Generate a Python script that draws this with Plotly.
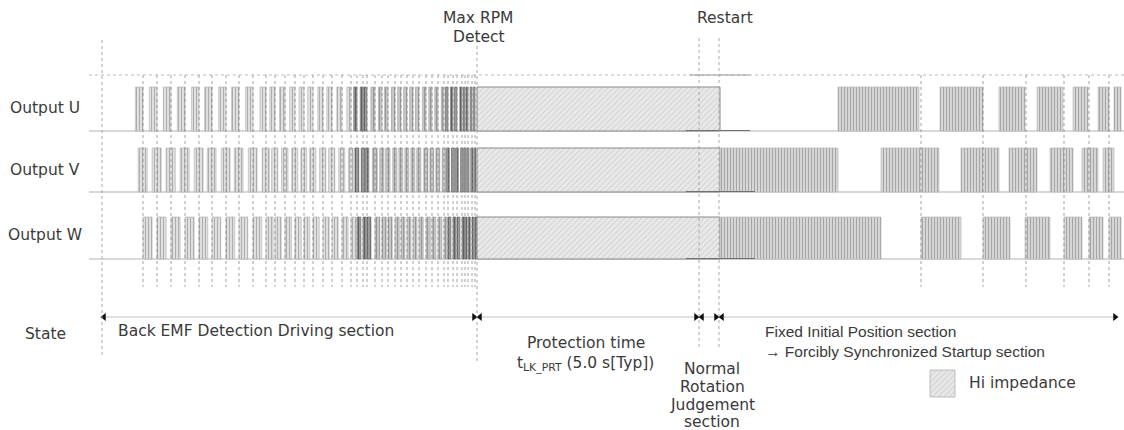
import plotly.graph_objects as go

# ---------------- data (time axis in drawing units) ----------------
rows = ["Output U", "Output V", "Output W"]
row_top = [87, 148, 217]
row_base = [131, 192, 259]
row_label_y = [108, 170, 235]

# commutation instants during Back EMF detection driving (dashed lines)
commutation_bemf = [143, 157, 171, 185, 199, 212, 226, 239, 253, 266, 275, 285,
                    295, 304, 313, 323, 332, 342, 351, 357, 363, 367, 375, 382,
                    388, 395, 401, 407, 413, 419, 426, 432, 438, 444, 448, 453,
                    457, 462, 465, 468, 472, 475]
# drive window of each phase relative to a commutation (fraction of local period)
pulse_phase = {"Output U": (-0.55, 0.0), "Output V": (-0.35, 0.3), "Output W": (0.0, 0.65)}
shade_zones = [(100, 352, "light"), (352, 369, "dark"), (369, 445, "mid"), (445, 478, "dark")]

left_t = 102
max_rpm_t = 477
judge_t = 699
restart_t = 719
hiz_window = (477, 720)

# forcibly synchronized startup bursts (start, end)
bursts = {
    "Output U": [(838, 919), (940, 983), (999, 1025), (1037, 1063), (1073, 1088), (1098, 1109), (1114, 1121)],
    "Output V": [(720, 838), (881, 939), (961, 999), (1009, 1037), (1050, 1073), (1082, 1098), (1103, 1114)],
    "Output W": [(720, 881), (921, 961), (983, 1010), (1025, 1050), (1064, 1082), (1089, 1103), (1109, 1121)],
}
commutation_sync = [921, 983, 1026, 1064, 1089, 1109]

# emphasised level segments around restart (row index, start, end)
restart_marks = [(0, 686, 750), (1, 686, 755), (2, 686, 755)]

# ---------------- styles ----------------
zone_style = {
    "light": dict(bg="#dfdfdf", fg="#a8a8a8", line="#b0b0b0"),
    "mid": dict(bg="#c6c6c6", fg="#939393", line="#a4a4a4"),
    "dark": dict(bg="#9a9a9a", fg="#5a5a5a", line="#6a6a6a"),
}
FONT = "DejaVu Sans"
TXT = "#3a3a3a"
FS = 15.5
X_MAX, Y_MAX = 1124, 430

fig = go.Figure()


def add_bars(starts, ends, ri, bg, fg, line, shape="|", size=3, solidity=0.3, lw=0.6):
    if not starts:
        return
    fig.add_trace(go.Bar(
        x=[(a + b) / 2 for a, b in zip(starts, ends)],
        width=[b - a for a, b in zip(starts, ends)],
        base=[row_base[ri]] * len(starts),
        y=[row_top[ri] - row_base[ri]] * len(starts),
        marker=dict(color=bg, line=dict(color=line, width=lw),
                    pattern=dict(shape=shape, fgcolor=fg, bgcolor=bg, size=size,
                                 solidity=solidity, fillmode="replace")),
        hoverinfo="skip", showlegend=False,
    ))


# Back EMF detection driving pulses
for ri, name in enumerate(rows):
    f0, f1 = pulse_phase[name]
    groups = {z: ([], []) for z in zone_style}
    n = len(commutation_bemf)
    for k, t in enumerate(commutation_bemf):
        if 0 < k < n - 1:
            p = (commutation_bemf[k + 1] - commutation_bemf[k - 1]) / 2
        elif k == 0:
            p = commutation_bemf[1] - commutation_bemf[0]
        else:
            p = commutation_bemf[-1] - commutation_bemf[-2]
        a, b = t + f0 * p, min(t + f1 * p, max_rpm_t)
        for z0, z1, zn in shade_zones:
            if z0 <= t < z1:
                groups[zn][0].append(a)
                groups[zn][1].append(b)
    for zn, (s, e) in groups.items():
        st = zone_style[zn]
        add_bars(s, e, ri, st["bg"], st["fg"], st["line"])

# Hi impedance windows
for ri in range(3):
    add_bars([hiz_window[0]], [hiz_window[1]], ri, "#e8e8e8", "#b8b8b8", "#8a8a8a",
             shape="/", size=4, solidity=0.15, lw=1)

# startup bursts
for ri, name in enumerate(rows):
    s = [a for a, b in bursts[name]]
    e = [b for a, b in bursts[name]]
    add_bars(s, e, ri, "#d6d6d6", "#a6a6a6", "#b4b4b4", size=3, solidity=0.35)

# legend swatch (Hi impedance)
fig.add_trace(go.Bar(
    x=[942.5], width=[25], base=[397], y=[-27],
    marker=dict(color="#e6e6e6", line=dict(color="#b0b0b0", width=0.8),
                pattern=dict(shape="/", fgcolor="#b8b8b8", bgcolor="#e6e6e6", size=4,
                             solidity=0.15, fillmode="replace")),
    hoverinfo="skip", showlegend=False,
))

shapes = []
# top dotted reference line and base levels
shapes.append(dict(type="line", x0=89, x1=X_MAX, y0=75, y1=75,
                   line=dict(color="#bdbdbd", width=1, dash="dot"), layer="below"))
for yb in row_base:
    shapes.append(dict(type="line", x0=89, x1=X_MAX, y0=yb, y1=yb,
                       line=dict(color="#b3b3b3", width=1.2), layer="below"))
shapes.append(dict(type="line", x0=690, x1=750, y0=75, y1=75,
                   line=dict(color="#9a9a9a", width=1)))
for ri, a, b in restart_marks:
    shapes.append(dict(type="line", x0=a, x1=b, y0=row_base[ri] - 0.5, y1=row_base[ri] - 0.5,
                       line=dict(color="#707070", width=1.2)))

# commutation dashed lines
for t in commutation_bemf + commutation_sync:
    shapes.append(dict(type="line", x0=t, x1=t, y0=75, y1=287,
                       line=dict(color="#8c8c8c", width=0.8, dash="3px,3px"), layer="above"))
# long event lines
for t, y0, y1 in [(left_t, 40, 358), (max_rpm_t, 40, 362), (judge_t, 38, 350), (restart_t, 38, 350)]:
    shapes.append(dict(type="line", x0=t, x1=t, y0=y0, y1=y1,
                       line=dict(color="#a0a0a0", width=0.9, dash="3px,3px"), layer="above"))
# state line
shapes.append(dict(type="line", x0=left_t, x1=1117, y0=317, y1=317,
                   line=dict(color="#c4c4c4", width=1.2), layer="below"))

# state arrow heads
ax_r = [max_rpm_t - 3, judge_t - 3, restart_t - 3, 1115]
ax_l = [left_t + 2, max_rpm_t + 3, judge_t + 3, restart_t + 3]
fig.add_trace(go.Scatter(x=ax_r, y=[317] * len(ax_r), mode="markers",
                         marker=dict(symbol="triangle-right", size=7, color="#111"),
                         hoverinfo="skip", showlegend=False))
fig.add_trace(go.Scatter(x=ax_l, y=[317] * len(ax_l), mode="markers",
                         marker=dict(symbol="triangle-left", size=7, color="#111"),
                         hoverinfo="skip", showlegend=False))

ann = []


def text(x, y, s, anchor="center", size=FS, family=FONT):
    ann.append(dict(x=x, y=y, text=s, xanchor=anchor, yanchor="middle", showarrow=False,
                    font=dict(family=family, size=size, color=TXT), xref="x", yref="y"))


for name, y in zip(rows, row_label_y):
    text(45, y, name)
text(45, 334, "State")
text(478, 18, "Max RPM")
text(479, 37, "Detect")
text(725, 18, "Restart")
text(116, 331, "Back EMF Detection Driving section", anchor="left")
text(586, 343, "Protection time")
text(585, 364, "t<sub>LK_PRT</sub> (5.0 s[Typ])")
for s, y in zip(["Normal", "Rotation", "Judgement", "section"], [369, 387, 405, 422]):
    text(712, y, s)
text(763, 331, "Fixed Initial Position section", anchor="left", family="Liberation Sans", size=15.5)
text(763, 351, "→ Forcibly Synchronized Startup section", anchor="left", family="Liberation Sans", size=15.5)
text(967, 383, "Hi impedance", anchor="left")

fig.update_layout(
    width=X_MAX, height=Y_MAX, margin=dict(l=0, r=0, t=0, b=0),
    paper_bgcolor="white", plot_bgcolor="white",
    barmode="overlay", showlegend=False,
    shapes=shapes, annotations=ann,
    xaxis=dict(range=[0, X_MAX], visible=False, fixedrange=True),
    yaxis=dict(range=[Y_MAX, 0], visible=False, fixedrange=True),
)
fig.write_html("out.html", config={"displayModeBar": False},
               post_script="document.body.style.margin='0';document.body.style.overflow='hidden';")
